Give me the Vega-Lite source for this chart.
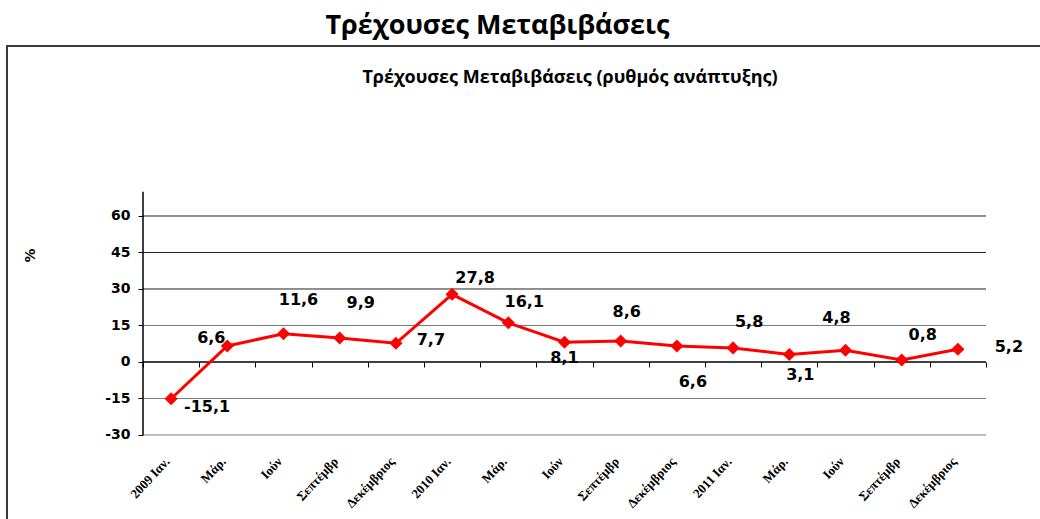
{
  "$schema": "https://vega.github.io/schema/vega-lite/v6.json",
  "width": 1035,
  "height": 476,
  "autosize": {"type": "none"},
  "padding": {"left": 7, "top": 46, "right": -2, "bottom": -3},
  "background": "white",
  "config": {
    "view": {"stroke": "#3a3a3a", "strokeWidth": 2},
    "locale": {"number": {"decimal": ",", "thousands": ".", "grouping": [3], "currency": ["", " €"], "minus": "-"}}
  },
  "title": {
    "text": "Τρέχουσες Μεταβιβάσεις",
    "font": "Open Sans",
    "fontSize": 27,
    "fontWeight": "bold",
    "color": "black",
    "anchor": "middle",
    "frame": "group",
    "dx": -27,
    "offset": 6
  },
  "data": {
    "values": [
      {"n": 1, "period": "2009 Ιαν.", "v": -15.1},
      {"n": 2, "period": "2009 Μάρ.", "v": 6.6},
      {"n": 3, "period": "2009 Ιούν", "v": 11.6},
      {"n": 4, "period": "2009 Σεπτέμβρ", "v": 9.9},
      {"n": 5, "period": "2009 Δεκέμβριος", "v": 7.7},
      {"n": 6, "period": "2010 Ιαν.", "v": 27.8},
      {"n": 7, "period": "2010 Μάρ.", "v": 16.1},
      {"n": 8, "period": "2010 Ιούν", "v": 8.1},
      {"n": 9, "period": "2010 Σεπτέμβρ", "v": 8.6},
      {"n": 10, "period": "2010 Δεκέμβριος", "v": 6.6},
      {"n": 11, "period": "2011 Ιαν.", "v": 5.8},
      {"n": 12, "period": "2011 Μάρ.", "v": 3.1},
      {"n": 13, "period": "2011 Ιούν", "v": 4.8},
      {"n": 14, "period": "2011 Σεπτέμβρ", "v": 0.8},
      {"n": 15, "period": "2011 Δεκέμβριος", "v": 5.2}
    ]
  },
  "layer": [
    {
      "data": {"values": [{"g": 30}, {"g": 45}, {"g": 60}]},
      "mark": {"type": "rule", "color": "#222222", "strokeWidth": 1},
      "encoding": {
        "x": {"datum": 0.5, "type": "quantitative", "scale": {"domain": [-1.91993, 16.49644], "nice": false, "zero": false}},
        "x2": {"datum": 15.5},
        "y": {"field": "g", "type": "quantitative", "scale": {"domain": [-65.754, 129.863], "nice": false, "zero": false}}
      }
    },
    {
      "data": {"values": [{"g": 15}, {"g": -15}, {"g": -30}]},
      "mark": {"type": "rule", "color": "#7a7a7a", "strokeWidth": 1},
      "encoding": {
        "x": {"datum": 0.5, "type": "quantitative", "scale": {"domain": [-1.91993, 16.49644], "nice": false, "zero": false}},
        "x2": {"datum": 15.5},
        "y": {"field": "g", "type": "quantitative", "scale": {"domain": [-65.754, 129.863], "nice": false, "zero": false}}
      }
    },
    {
      "data": {"values": [{}]},
      "mark": {"type": "rule", "color": "black", "strokeWidth": 1.5},
      "encoding": {
        "x": {"datum": 0.5, "type": "quantitative", "scale": {"domain": [-1.91993, 16.49644], "nice": false, "zero": false}},
        "y": {"datum": -30, "type": "quantitative", "scale": {"domain": [-65.754, 129.863], "nice": false, "zero": false}},
        "y2": {"datum": 70}
      }
    },
    {
      "data": {"values": [{}]},
      "mark": {"type": "rule", "color": "black", "strokeWidth": 1.5},
      "encoding": {
        "x": {"datum": 0.5, "type": "quantitative", "scale": {"domain": [-1.91993, 16.49644], "nice": false, "zero": false}},
        "x2": {"datum": 15.5},
        "y": {"datum": 0, "type": "quantitative", "scale": {"domain": [-65.754, 129.863], "nice": false, "zero": false}}
      }
    },
    {
      "data": {"values": [{}]},
      "mark": {"type": "text", "text": "Τρέχουσες Μεταβιβάσεις (ρυθμός ανάπτυξης)", "font": "Open Sans", "fontSize": 18, "fontWeight": "bold", "color": "black", "align": "center", "baseline": "middle"},
      "encoding": {
        "x": {"datum": 8.098, "type": "quantitative", "scale": {"domain": [-1.91993, 16.49644], "nice": false, "zero": false}},
        "y": {"datum": 116.71, "type": "quantitative", "scale": {"domain": [-65.754, 129.863], "nice": false, "zero": false}}
      }
    },
    {
      "mark": {"type": "line", "color": "#ff0000", "strokeWidth": 3},
      "encoding": {
        "x": {
          "field": "n",
          "type": "quantitative",
          "scale": {"domain": [-1.91993, 16.49644], "nice": false, "zero": false},
          "axis": {
            "orient": "bottom",
            "offset": -160,
            "values": [0.5, 1.5, 2.5, 3.5, 4.5, 5.5, 6.5, 7.5, 8.5, 9.5, 10.5, 11.5, 12.5, 13.5, 14.5, 15.5],
            "domain": false,
            "grid": false,
            "ticks": true,
            "tickSize": 5,
            "tickColor": "black",
            "tickWidth": 1,
            "labelExpr": "datum.value < 15 ? ['2009 Ιαν.','Μάρ.','Ιούν','Σεπτέμβρ','Δεκέμβριος','2010 Ιαν.','Μάρ.','Ιούν','Σεπτέμβρ','Δεκέμβριος','2011 Ιαν.','Μάρ.','Ιούν','Σεπτέμβρ','Δεκέμβριος'][floor(datum.value)] : ''",
            "labelOffset": 24,
            "labelAngle": -47,
            "labelAlign": "right",
            "labelBaseline": "middle",
            "labelPadding": 92,
            "labelFont": "Liberation Serif",
            "labelFontSize": 13,
            "labelFontWeight": "bold",
            "labelColor": "black",
            "labelOverlap": false,
            "labelBound": false,
            "labelFlush": false,
            "title": null
          }
        },
        "y": {
          "field": "v",
          "type": "quantitative",
          "scale": {"domain": [-65.754, 129.863], "nice": false, "zero": false},
          "axis": {
            "orient": "left",
            "offset": -136,
            "values": [-30, -15, 0, 15, 30, 45, 60],
            "format": "d",
            "domain": false,
            "grid": false,
            "ticks": true,
            "tickSize": 5,
            "tickColor": "black",
            "labelFont": "DejaVu Sans",
            "labelFontSize": 14,
            "labelFontWeight": "bold",
            "labelColor": "black",
            "labelPadding": 8,
            "labelOverlap": false,
            "labelFlush": false,
            "title": "%",
            "titleX": -113,
            "titleY": 209,
            "titleAngle": -90,
            "titleAlign": "center",
            "titleBaseline": "middle",
            "titleFont": "DejaVu Sans",
            "titleFontSize": 14,
            "titleFontWeight": "bold",
            "titleColor": "black"
          }
        }
      }
    },
    {
      "mark": {"type": "point", "shape": "diamond", "filled": true, "color": "#ff0000", "size": 170, "opacity": 1},
      "encoding": {
        "x": {"field": "n", "type": "quantitative", "scale": {"domain": [-1.91993, 16.49644], "nice": false, "zero": false}},
        "y": {"field": "v", "type": "quantitative", "scale": {"domain": [-65.754, 129.863], "nice": false, "zero": false}}
      }
    },
    {
      "encoding": {
        "x": {"field": "n", "type": "quantitative", "scale": {"domain": [-1.91993, 16.49644], "nice": false, "zero": false}},
        "y": {"field": "v", "type": "quantitative", "scale": {"domain": [-65.754, 129.863], "nice": false, "zero": false}},
        "text": {"field": "v", "type": "quantitative", "format": ".1f"}
      },
      "layer": [
        {"transform": [{"filter": "datum.n == 1"}], "mark": {"type": "text", "font": "DejaVu Sans", "fontSize": 16, "fontWeight": "bold", "color": "black", "align": "center", "baseline": "middle", "dx": 36, "dy": 8}},
        {"transform": [{"filter": "datum.n == 2"}], "mark": {"type": "text", "font": "DejaVu Sans", "fontSize": 16, "fontWeight": "bold", "color": "black", "align": "center", "baseline": "middle", "dx": -16, "dy": -8}},
        {"transform": [{"filter": "datum.n == 3"}], "mark": {"type": "text", "font": "DejaVu Sans", "fontSize": 16, "fontWeight": "bold", "color": "black", "align": "center", "baseline": "middle", "dx": 15, "dy": -34}},
        {"transform": [{"filter": "datum.n == 4"}], "mark": {"type": "text", "font": "DejaVu Sans", "fontSize": 16, "fontWeight": "bold", "color": "black", "align": "center", "baseline": "middle", "dx": 21, "dy": -35}},
        {"transform": [{"filter": "datum.n == 5"}], "mark": {"type": "text", "font": "DejaVu Sans", "fontSize": 16, "fontWeight": "bold", "color": "black", "align": "center", "baseline": "middle", "dx": 35, "dy": -3}},
        {"transform": [{"filter": "datum.n == 6"}], "mark": {"type": "text", "font": "DejaVu Sans", "fontSize": 16, "fontWeight": "bold", "color": "black", "align": "center", "baseline": "middle", "dx": 23, "dy": -16}},
        {"transform": [{"filter": "datum.n == 7"}], "mark": {"type": "text", "font": "DejaVu Sans", "fontSize": 16, "fontWeight": "bold", "color": "black", "align": "center", "baseline": "middle", "dx": 16, "dy": -21}},
        {"transform": [{"filter": "datum.n == 8"}], "mark": {"type": "text", "font": "DejaVu Sans", "fontSize": 16, "fontWeight": "bold", "color": "black", "align": "center", "baseline": "middle", "dx": 0, "dy": 16}},
        {"transform": [{"filter": "datum.n == 9"}], "mark": {"type": "text", "font": "DejaVu Sans", "fontSize": 16, "fontWeight": "bold", "color": "black", "align": "center", "baseline": "middle", "dx": 6, "dy": -29}},
        {"transform": [{"filter": "datum.n == 10"}], "mark": {"type": "text", "font": "DejaVu Sans", "fontSize": 16, "fontWeight": "bold", "color": "black", "align": "center", "baseline": "middle", "dx": 16, "dy": 36}},
        {"transform": [{"filter": "datum.n == 11"}], "mark": {"type": "text", "font": "DejaVu Sans", "fontSize": 16, "fontWeight": "bold", "color": "black", "align": "center", "baseline": "middle", "dx": 16, "dy": -26}},
        {"transform": [{"filter": "datum.n == 12"}], "mark": {"type": "text", "font": "DejaVu Sans", "fontSize": 16, "fontWeight": "bold", "color": "black", "align": "center", "baseline": "middle", "dx": 11, "dy": 21}},
        {"transform": [{"filter": "datum.n == 13"}], "mark": {"type": "text", "font": "DejaVu Sans", "fontSize": 16, "fontWeight": "bold", "color": "black", "align": "center", "baseline": "middle", "dx": -9, "dy": -32}},
        {"transform": [{"filter": "datum.n == 14"}], "mark": {"type": "text", "font": "DejaVu Sans", "fontSize": 16, "fontWeight": "bold", "color": "black", "align": "center", "baseline": "middle", "dx": 21, "dy": -25}},
        {"transform": [{"filter": "datum.n == 15"}], "mark": {"type": "text", "font": "DejaVu Sans", "fontSize": 16, "fontWeight": "bold", "color": "black", "align": "center", "baseline": "middle", "dx": 51, "dy": -2}}
      ]
    }
  ]
}
